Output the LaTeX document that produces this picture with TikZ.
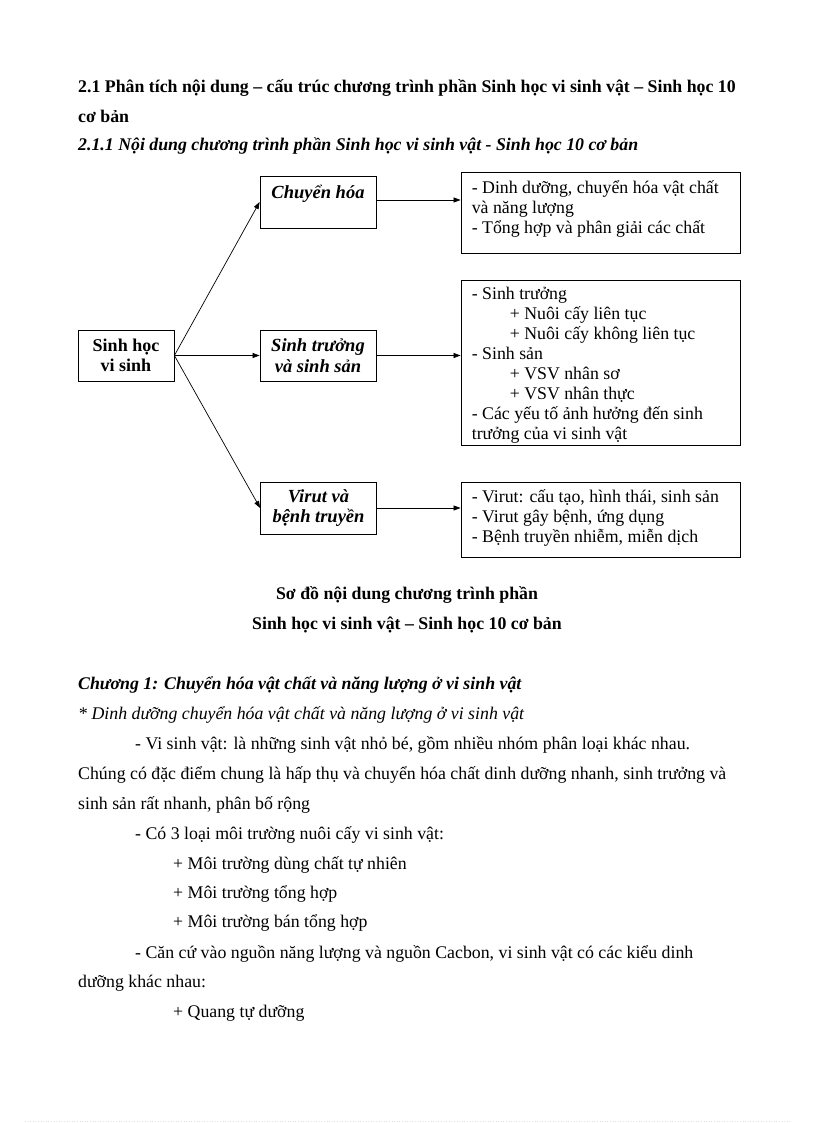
\documentclass[tikz,border=0pt]{standalone}
\usepackage{fontspec}
\setmainfont{Liberation Serif}
\usetikzlibrary{arrows.meta}
\newcommand{\fs}{\fontsize{17.8}{20}\selectfont}
\tikzset{
  txt/.style={inner sep=0pt, anchor=west, font=\fs},
  hd/.style={inner sep=0pt, anchor=west, font=\fs\bfseries},
  hdi/.style={inner sep=0pt, anchor=west, font=\fs\bfseries\itshape},
  captxt/.style={inner sep=0pt, anchor=center, font=\fs\bfseries},
  box/.style={draw, line width=0.8pt, inner sep=0pt},
  lbox/.style={box, minimum width=116pt, minimum height=52pt, align=center, font=\fontsize{18.5}{20.5}\selectfont\bfseries\itshape},
  rbox/.style={box, minimum width=279pt},
  btxt/.style={inner sep=0pt, anchor=north west, align=left, font=\fs},
  arr/.style={-{Triangle[length=7pt,width=5pt]}, line width=0.7pt},
}
\begin{document}
\begin{tikzpicture}[x=1pt,y=-1pt]
\useasboundingbox (0,0) rectangle (816,1123);
% headings
\node[hd] (h1) at (78,88) {2.1 Phân tích nội dung -- cấu trúc chương trình phần Sinh học vi sinh vật -- Sinh học 10};
\node[hd] (h2) at (78,116) {cơ bản};
\node[hdi] (h3) at (78,146) {2.1.1 Nội dung chương trình phần Sinh học vi sinh vật - Sinh học 10 cơ bản};
% diagram
\node[box, minimum width=96pt, minimum height=51pt, align=center, font=\fontsize{18}{20}\selectfont\bfseries] (s) at (126,355.5) {Sinh học\\vi sinh};
\node[lbox] (c1) at (318,202) {Chuyển hóa\\\mbox{}};
\node[lbox, minimum height=51pt] (c2) at (318,355.5) {Sinh trưởng\\và sinh sản};
\node[lbox] (c3) at (318.5,508) {Virut và\\bệnh truyền};
\node[rbox, minimum height=81pt] (r1) at (600.5,212.5) {};
\node[rbox, minimum height=165pt] (r2) at (600.5,362.5) {};
\node[rbox, minimum height=75pt] (r3) at (600.5,519.5) {};
\node[btxt] (t1) at ([xshift=11pt,yshift=-8pt]r1.north west) {\strut- Dinh dưỡng, chuyển hóa vật chất\\và năng lượng\\- Tổng hợp và phân giải các chất};
\node[btxt] (t2) at ([xshift=11pt,yshift=-6pt]r2.north west) {\strut- Sinh trưởng\\\hspace*{38pt}+ Nuôi cấy liên tục\\\hspace*{38pt}+ Nuôi cấy không liên tục\\- Sinh sản\\\hspace*{38pt}+ VSV nhân sơ\\\hspace*{38pt}+ VSV nhân thực\\- Các yếu tố ảnh hưởng đến sinh\\trưởng của vi sinh vật};
\node[btxt] (t3) at ([xshift=11pt,yshift=-7pt]r3.north west) {\strut- Virut: cấu tạo, hình thái, sinh sản\\- Virut gây bệnh, ứng dụng\\- Bệnh truyền nhiễm, miễn dịch};
\draw[arr] (s.east) -- (c1.west);
\draw[arr] (s.east) -- (c2.west);
\draw[arr] (s.east) -- (c3.west);
\draw[arr] ([yshift=2pt]c1.east) -- ([yshift=2pt]c1.east -| r1.west);
\draw[arr] (c2.east) -- (c2.east -| r2.west);
\draw[arr] (c3.east) -- (c3.east -| r3.west);
% caption
\node[captxt] (cap1) at (407,595) {Sơ đồ nội dung chương trình phần};
\node[captxt] (cap2) at (407,625) {Sinh học vi sinh vật -- Sinh học 10 cơ bản};
% body
\node[hdi] (b1) at (78,685) {Chương 1: Chuyển hóa vật chất và năng lượng ở vi sinh vật};
\node[txt, font=\fs\itshape] (b2) at (78,715) {* Dinh dưỡng chuyển hóa vật chất và năng lượng ở vi sinh vật};
\node[txt] (b3) at (135,745) {- Vi sinh vật: là những sinh vật nhỏ bé, gồm nhiều nhóm phân loại khác nhau.};
\node[txt] (b4) at (78,775) {Chúng có đặc điểm chung là hấp thụ và chuyển hóa chất dinh dưỡng nhanh, sinh trưởng và};
\node[txt] (b5) at (78,805) {sinh sản rất nhanh, phân bố rộng};
\node[txt] (b6) at (135,835) {- Có 3 loại môi trường nuôi cấy vi sinh vật:};
\node[txt] (b7) at (173,865) {+ Môi trường dùng chất tự nhiên};
\node[txt] (b8) at (173,894) {+ Môi trường tổng hợp};
\node[txt] (b9) at (173,923) {+ Môi trường bán tổng hợp};
\node[txt] (b10) at (135,954) {- Căn cứ vào nguồn năng lượng và nguồn Cacbon, vi sinh vật có các kiểu dinh};
\node[txt] (b11) at (78,983) {dưỡng khác nhau:};
\node[txt] (b12) at (173,1013) {+ Quang tự dưỡng};
% faint footer line
\draw[black!12, dotted, line width=0.6pt] (25,1121) -- (790,1121);
\end{tikzpicture}
\end{document}
